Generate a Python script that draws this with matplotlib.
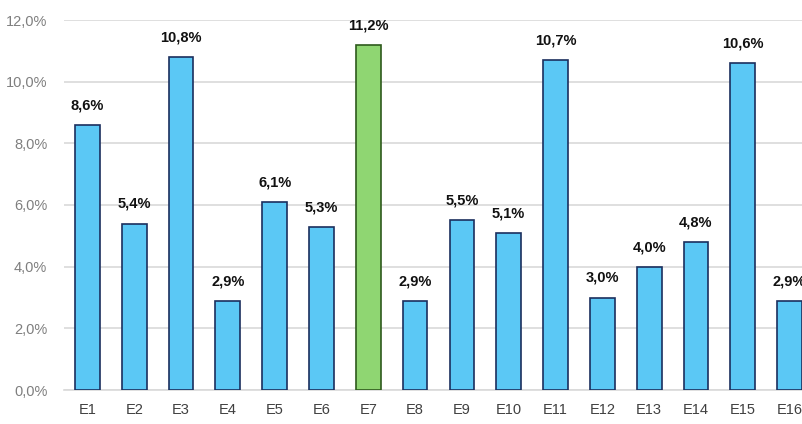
import matplotlib.pyplot as plt
from matplotlib.ticker import FuncFormatter

categories = ["E1", "E2", "E3", "E4", "E5", "E6", "E7", "E8",
              "E9", "E10", "E11", "E12", "E13", "E14", "E15", "E16"]
values = [8.6, 5.4, 10.8, 2.9, 6.1, 5.3, 11.2, 2.9,
          5.5, 5.1, 10.7, 3.0, 4.0, 4.8, 10.6, 2.9]
highlight = "E7"

BLUE, BLUE_EDGE = "#5BC8F5", "#1B2F5E"
GREEN, GREEN_EDGE = "#8FD672", "#2E5A1C"

plt.rcParams["font.family"] = ["Liberation Sans", "DejaVu Sans"]

fig = plt.figure(figsize=(8.03, 4.24), dpi=100)
# plot area runs past the right edge, as in the reference
ax = fig.add_axes([64 / 803, 1 - 390 / 424, 749 / 803, 370 / 424])

colors = [GREEN if c == highlight else BLUE for c in categories]
edges = [GREEN_EDGE if c == highlight else BLUE_EDGE for c in categories]
x = range(len(categories))
ax.bar(x, values, width=0.53, color=colors, edgecolor=edges,
       linewidth=1.2, zorder=3)

for xi, v in zip(x, values):
    ax.annotate(f"{v:.1f}%".replace(".", ","), (xi, v), xytext=(0, 9),
                textcoords="offset points", ha="center", va="bottom",
                fontsize=10.5, fontweight="bold", color="#111111")

ax.set_xlim(-0.5, len(categories) - 0.5)
ax.set_ylim(0, 12)
ax.set_yticks(range(0, 13, 2))
ax.yaxis.set_major_formatter(FuncFormatter(lambda v, _: f"{v:.1f}%".replace(".", ",")))
ax.set_xticks(list(x))
ax.set_xticklabels(categories)

ax.grid(axis="y", color="#D9D9D9", linewidth=1.2, zorder=0)
for side in ["top", "right", "left"]:
    ax.spines[side].set_visible(False)
ax.spines["bottom"].set_color("#D9D9D9")
ax.spines["bottom"].set_linewidth(1.2)
ax.tick_params(axis="both", length=0, labelsize=10.5)
ax.tick_params(axis="x", pad=9, colors="#404040")
ax.tick_params(axis="y", pad=12, colors="#7F7F7F")

fig.savefig("out.png", dpi=100)
